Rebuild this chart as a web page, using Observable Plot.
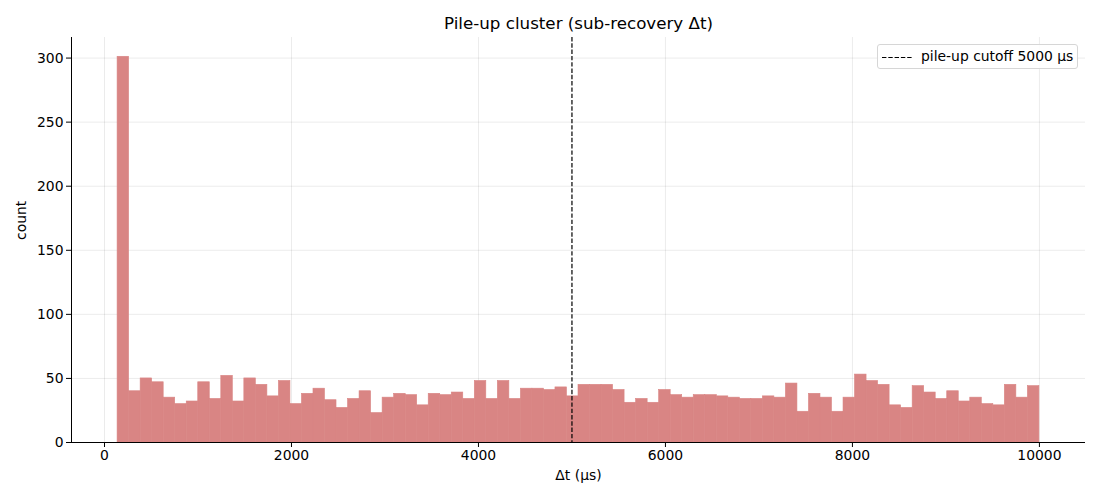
<!DOCTYPE html>
<html>
<head>
<meta charset="utf-8">
<script src="https://cdn.jsdelivr.net/npm/d3@7"></script>
<script src="https://cdn.jsdelivr.net/npm/@observablehq/plot@0.6"></script>
<style>
  html, body { margin: 0; padding: 0; background: #fff; }
  #wrap { position: relative; width: 1100px; height: 500px; font-family: "DejaVu Sans", sans-serif; }
  #legend {
    position: absolute; left: 877px; top: 44px; width: 201px; height: 25px;
    border: 1px solid #d6d6d6; border-radius: 3px; background: rgba(255,255,255,0.85);
    box-sizing: border-box; font-size: 13.9px; color: #000;
  }
  #legend svg { position: absolute; left: 4px; top: 11px; }
  #legend span { position: absolute; left: 43px; top: 3px; white-space: nowrap; }
</style>
</head>
<body>
<div id="wrap">
  <div id="chart"></div>
  <div id="legend"><svg width="32" height="3"><line x1="0" y1="1.5" x2="30" y2="1.5" stroke="#000" stroke-width="1.2" stroke-dasharray="4.4,1.9"/></svg><span>pile-up cutoff 5000 µs</span></div>
</div>
<script>
const binStart = 140;
const binEnd = 10000;
const counts = [301,40,50,47,35,30,32,47,34,52,32,50,45,36,48,30,38,42,33,27,
  34,40,23,35,38,37,29,38,37,39,34,48,34,48,34,42,42,41,43,36,45,
  45,45,41,31,34,31,41,37,35,37,37,36,35,34,34,36,35,46,24,38,35,
  24,35,53,48,45,29,27,44,39,34,40,32,35,30,29,45,35,44];
const cutoff = 5000;
const xTicks = [0, 2000, 4000, 6000, 8000, 10000];
const yTicks = [0, 50, 100, 150, 200, 250, 300];

const binW = (binEnd - binStart) / counts.length;
const bins = counts.map((c, i) => ({x1: binStart + i * binW, x2: binStart + (i + 1) * binW, count: c}));

const span = binEnd - binStart;
const xDomain = [binStart - 0.05 * span, binEnd + 0.05 * span];
const yMax = d3.max(counts) * 1.05;
const barColor = "#d98584";

const plot = Plot.plot({
  width: 1100,
  height: 500,
  marginLeft: 71,
  marginRight: 15,
  marginTop: 37,
  marginBottom: 58,
  style: {fontFamily: "DejaVu Sans, sans-serif", fontSize: "13.9px", color: "#000", background: "#fff"},
  x: {domain: xDomain},
  y: {domain: [0, yMax]},
  marks: [
    Plot.gridX(xTicks, {stroke: "#000", strokeOpacity: 0.1, strokeWidth: 0.8}),
    Plot.gridY(yTicks, {stroke: "#000", strokeOpacity: 0.1, strokeWidth: 0.8}),
    Plot.rectY(bins, {x1: "x1", x2: "x2", y: "count", fill: barColor, stroke: barColor, strokeWidth: 0.6, inset: 0}),
    Plot.ruleX([cutoff], {stroke: "#000", strokeWidth: 1.2, strokeDasharray: "4.4,1.9"}),
    Plot.ruleX([xDomain[0]], {stroke: "#000", strokeWidth: 1}),
    Plot.ruleY([0], {stroke: "#000", strokeWidth: 1}),
    Plot.axisX(xTicks, {tickSize: 5, tickPadding: 3, fontSize: 13.9, label: null, tickFormat: d => String(d)}),
    Plot.axisY(yTicks, {tickSize: 5, tickPadding: 3, fontSize: 13.9, label: null}),
    Plot.text(["Δt (µs)"], {frameAnchor: "bottom", dy: 37, fontSize: 13.9}),
    Plot.text(["count"], {frameAnchor: "left", dx: -50, rotate: -90, fontSize: 13.9}),
    Plot.text(["Pile-up cluster (sub-recovery Δt)"], {frameAnchor: "top", dy: -20, fontSize: 16.7})
  ]
});
document.getElementById("chart").appendChild(plot);
</script>
</body>
</html>
